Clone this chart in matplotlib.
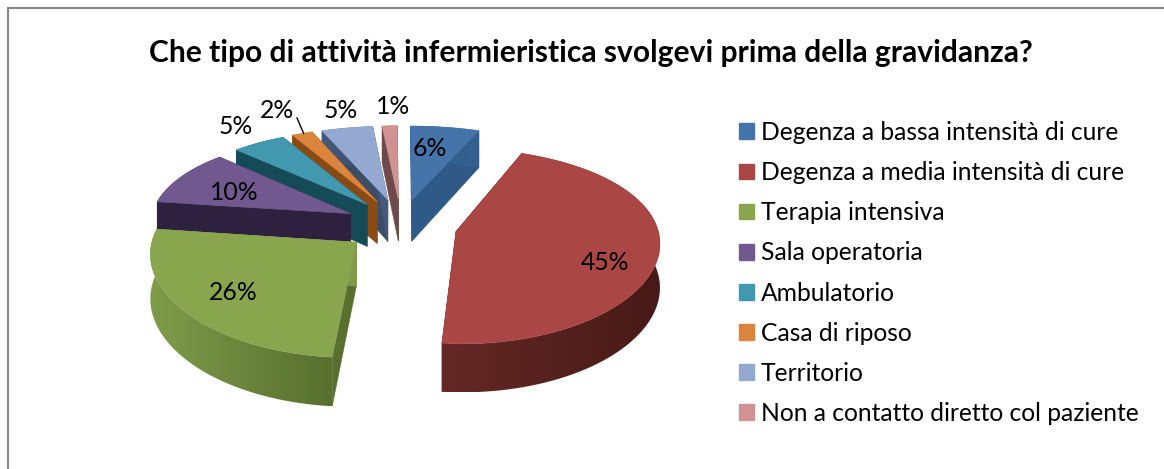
import numpy as np
import matplotlib
matplotlib.use('Agg')
import matplotlib.pyplot as plt
from matplotlib.patches import Polygon, Patch
from matplotlib.colors import to_rgb

plt.rcParams['font.family'] = ['Lato', 'DejaVu Sans']

title = 'Che tipo di attività infermieristica svolgevi prima della gravidanza?'
categories = ['Degenza a bassa intensità di cure', 'Degenza a media intensità di cure',
              'Terapia intensiva', 'Sala operatoria', 'Ambulatorio', 'Casa di riposo',
              'Territorio', 'Non a contatto diretto col paziente']
# labels show them rounded
values = [6.3, 45.1, 25.7, 9.9, 4.9, 1.9, 4.7, 1.4]

top_colors = ['#4574aa', '#aa4643', '#89a54e', '#71588f', '#4198af', '#db843d', '#93a9cf', '#d19392']
wall_left = ['#2f5a88', '#642825', '#7f9c4a', '#2e2140', '#154a57', '#8a4a13', '#46597a', '#6e4a4a']
wall_right = ['#34618f', '#471a17', '#586f2e', '#2e2140', '#154a57', '#8a4a13', '#3c4d68', '#6e4a4a']

# layout of the fake 3d pie, in figure pixels
cx, cy = 401, 225
rx, ry = 201, 96
explode = 0.28
depth = 43
px, py = 0.10, 0.15

label_pos = [(430, 148), (605, 262), (233, 293), (234, 192), (236, 127), (277, 111), (341, 110), (393, 106)]

fig = plt.figure(figsize=(11.64, 4.69), dpi=100)
ax = fig.add_axes([0, 0, 1, 1])
ax.set_xlim(0, 1164)
ax.set_ylim(469, 0)
ax.autoscale(False)
ax.axis('off')


def project(x, y, down=0.0):
    sx = cx + rx * x * (1 + px * y)
    sy = cy + ry * y * (1 + py * y) + down * depth * (1 + 0.12 * y)
    return sx, sy


def mix(c1, c2, t):
    a, b = np.array(to_rgb(c1)), np.array(to_rgb(c2))
    return a + (b - a) * t


# angles clockwise from 12 o'clock
edges = np.radians(np.concatenate([[0], np.cumsum(values)]) * 3.6)
slices = []
for i in range(len(values)):
    mid = (edges[i] + edges[i + 1]) / 2
    ox, oy = explode * np.sin(mid), -explode * np.cos(mid)
    slices.append((oy, i, ox, edges[i], edges[i + 1]))

# back slices first
for n, (oy, i, ox, a0, a1) in enumerate(sorted(slices)):
    z = 1 + n
    t = np.linspace(a0, a1, max(int(values[i] * 3), 8))
    x = ox + np.sin(t)
    y = oy - np.cos(t)
    rim_top = np.array(project(x, y)).T
    rim_bot = np.array(project(x, y, 1)).T
    apex_top = project(ox, oy)
    apex_bot = project(ox, oy, 1)

    # radial walls
    for j, wall_col in ((0, wall_right[i]), (-1, wall_left[i])):
        ax.add_patch(Polygon([apex_top, rim_top[j], rim_bot[j], apex_bot], fc=wall_col, ec=wall_col, lw=0.4, zorder=z))

    # outer rim with a left to right gradient
    rim_poly = Polygon(np.vstack([rim_top, rim_bot[::-1]]), fc='none', ec='none', transform=ax.transData)
    ax.add_patch(rim_poly)
    xs = np.concatenate([rim_top[:, 0], rim_bot[:, 0]])
    ys = np.concatenate([rim_top[:, 1], rim_bot[:, 1]])
    grad = np.array([[mix(wall_left[i], wall_right[i], f) for f in np.linspace(0, 1, 64)]])
    im = ax.imshow(grad, extent=(xs.min(), xs.max(), ys.max(), ys.min()), aspect='auto', zorder=z, interpolation='bilinear')
    im.set_clip_path(rim_poly)

    ax.add_patch(Polygon(np.vstack([[apex_top], rim_top]), fc=top_colors[i], ec=top_colors[i], lw=0.4, zorder=z))

    ax.text(*label_pos[i], f'{values[i]:.0f}%', ha='center', va='center', fontsize=17.8, color='black', zorder=20)

    if categories[i] == 'Casa di riposo':
        rim_mid = rim_top[len(t) // 2]
        ax.plot([297, rim_mid[0]], [118, rim_mid[1]], color='black', lw=1.0, zorder=20)

ax.text(591, 53, title, ha='center', va='center', fontsize=21.6, fontweight='bold', color='black')

handles = [Patch(fc=c, ec=c) for c in top_colors]
ax.legend(handles, categories, loc='upper left', bbox_to_anchor=(739, 121), bbox_transform=ax.transData,
          frameon=False, fontsize=17.7, handlelength=0.61, handleheight=0.61, handletextpad=0.28,
          labelspacing=0.697, borderpad=0, borderaxespad=0, labelcolor='black')

# chart frame, only left and top are inside the crop
ax.plot([8, 8, 1164], [469, 8, 8], color='#868686', lw=1.5, solid_joinstyle='miter')

fig.savefig('out.png', dpi=100)
plt.close()
